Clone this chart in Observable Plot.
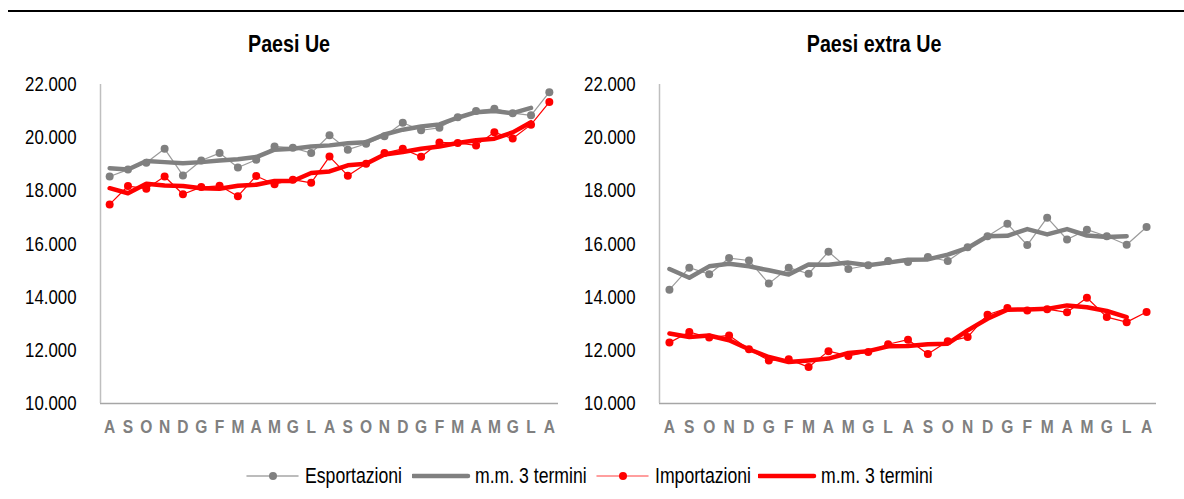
<!DOCTYPE html>
<html>
<head>
<meta charset="utf-8">
<script src="https://cdn.jsdelivr.net/npm/d3@7"></script>
<script src="https://cdn.jsdelivr.net/npm/@observablehq/plot@0.6"></script>
<style>
  html, body { margin: 0; padding: 0; background: #fff; }
  body { width: 1184px; height: 499px; overflow: hidden; position: relative;
         font-family: "Liberation Sans", Arial, sans-serif; }
  #topline { position: absolute; left: 8px; right: 0; top: 10px; height: 2px; background: #000; }
  .title { position: absolute; top: 30px; text-align: center; }
  .title span { display: inline-block; font-weight: bold; font-size: 24px; color: #000; transform: scaleX(0.82); }
  .panel { position: absolute; top: 60px; }
  .panel svg { overflow: visible; }
  #legend { position: absolute; top: 462px; left: 0; width: 1184px; height: 28px; }
  #legend .item { position: absolute; top: 0; height: 28px; display: flex; align-items: center; }
  #legend span { display: inline-block; font-size: 21.5px; color: #000; transform: scaleX(0.82);
                 transform-origin: left center; white-space: nowrap; }
</style>
</head>
<body>
<div id="topline"></div>
<div class="title" style="left:0;width:578px;"><span>Paesi Ue</span></div>
<div class="title" style="left:578px;width:592px;"><span>Paesi extra Ue</span></div>
<div id="left" class="panel" style="left:0;"></div>
<div id="right" class="panel" style="left:560px;"></div>
<div id="legend"></div>
<script>
const months = ["A","S","O","N","D","G","F","M","A","M","G","L","A","S","O","N","D","G","F","M","A","M","G","L","A"];
const yTicks = [10000, 12000, 14000, 16000, 18000, 20000, 22000];

// Paesi Ue
const ueEsp   = [18540,18800,19060,19580,18580,19140,19420,18880,19170,19670,19620,19420,20090,19550,19770,20050,20560,20280,20370,20770,21000,21090,20920,20840,21710];
const ueEspMM = [18850,18800,19120,19080,19040,19080,19140,19190,19270,19550,19580,19670,19710,19790,19830,20120,20300,20420,20500,20750,20960,21000,20920,21120];
const ueImp   = [17490,18180,18080,18540,17870,18140,18190,17800,18560,18250,18420,18300,19290,18570,19020,19420,19580,19280,19820,19800,19710,20200,19970,20490,21340];
const ueImpMM = [18100,17910,18270,18200,18180,18100,18080,18190,18230,18370,18370,18670,18730,18960,19020,19370,19460,19580,19670,19800,19900,19960,20200,20580];

// Paesi extra Ue
const exEsp   = [14280,15110,14860,15470,15380,14510,15110,14880,15710,15060,15200,15360,15320,15510,15360,15880,16290,16760,15960,16990,16170,16540,16290,15970,16640];
const exEspMM = [15060,14730,15160,15260,15160,15010,14850,15230,15220,15300,15200,15300,15410,15420,15600,15850,16290,16310,16560,16360,16560,16320,16260,16290];
const exImp   = [12290,12690,12480,12560,12040,11620,11660,11370,11970,11790,11940,12230,12400,11860,12340,12500,13340,13590,13500,13550,13430,13980,13250,13060,13440];
const exImpMM = [12630,12500,12560,12380,12040,11750,11560,11620,11690,11900,11970,12150,12160,12230,12250,12750,13190,13530,13540,13560,13690,13620,13480,13250];

const legendLabels = ["Esportazioni", "m.m. 3 termini", "Importazioni", "m.m. 3 termini"];

const GREY = "#808080", GREY_THIN = "#9a9a9a", RED = "#ff0000";
const fmt = d => d3.format(",")(d).replace(/,/g, ".");
const rows = arr => arr.map((v, i) => ({i, v}));
const FONT = '"Liberation Sans", Arial, sans-serif';

function panel(esp, espMM, imp, impMM, width, marginLeft, marginRight) {
  return Plot.plot({
    width, height: 393, marginLeft, marginRight, marginTop: 24, marginBottom: 50,
    style: {fontFamily: FONT, background: "transparent", overflow: "visible"},
    x: {type: "linear", domain: [-0.5, months.length - 0.5]},
    y: {domain: [10000, 22000]},
    marks: [
      Plot.ruleY([10000], {stroke: "#a6a6a6", strokeWidth: 1.5}),
      Plot.ruleX([-0.5], {stroke: "#bfbfbf", strokeWidth: 1.5}),
      Plot.axisY({ticks: yTicks, tickSize: 0, tickPadding: 24, tickFormat: fmt, label: null,
                  fontSize: 20.5, fill: "#000"}),
      Plot.axisX({ticks: d3.range(months.length), tickSize: 0, tickPadding: 16, label: null,
                  tickFormat: i => months[i], fontSize: 19, fontWeight: "bold", fill: GREY}),
      Plot.line(rows(esp), {x: "i", y: "v", stroke: GREY_THIN, strokeWidth: 1.2}),
      Plot.dot(rows(esp), {x: "i", y: "v", fill: GREY, r: 4}),
      Plot.line(rows(espMM), {x: "i", y: "v", stroke: GREY, strokeWidth: 4.5}),
      Plot.line(rows(imp), {x: "i", y: "v", stroke: RED, strokeWidth: 1.2}),
      Plot.dot(rows(imp), {x: "i", y: "v", fill: RED, r: 4}),
      Plot.line(rows(impMM), {x: "i", y: "v", stroke: RED, strokeWidth: 4.5})
    ]
  });
}

// condense axis tick labels horizontally (Arial Narrow look)
function condense(svg, k) {
  d3.select(svg).selectAll('g[aria-label$="tick label"] text').each(function() {
    const t = this.getAttribute("transform");
    if (t && /translate/.test(t)) {
      this.setAttribute("transform", t + ` scale(${k},1)`);
    } else {
      const x = +(this.getAttribute("x") || 0);
      this.setAttribute("transform", `translate(${x},0) scale(${k},1) translate(${-x},0)`);
    }
  });
  return svg;
}

document.getElementById("left").append(condense(panel(ueEsp, ueEspMM, ueImp, ueImpMM, 570, 100, 12), 0.82));
document.getElementById("right").append(condense(panel(exEsp, exEspMM, exImp, exImpMM, 612, 99, 16), 0.82));

// legend
const legendSyms = [
  {color: "#a6a6a6", dot: GREY, w: 1.5, len: 52},
  {color: GREY, dot: null, w: 4.5, len: 56},
  {color: "#ff7f7f", dot: RED, w: 1.5, len: 52},
  {color: RED, dot: null, w: 4.5, len: 56}
];
const legendX = [246, 412, 596, 758];
const lg = d3.select("#legend");
legendLabels.forEach((label, k) => {
  const it = legendSyms[k];
  const item = lg.append("div").attr("class", "item").style("left", legendX[k] + "px");
  const s = item.append("svg").attr("width", it.len + 6).attr("height", 14).style("margin-right", "1px");
  s.append("line").attr("x1", 1).attr("x2", it.len).attr("y1", 7).attr("y2", 7)
    .attr("stroke", it.color).attr("stroke-width", it.w).attr("stroke-linecap", "round");
  if (it.dot) s.append("circle").attr("cx", it.len / 2 + 1).attr("cy", 7).attr("r", 4).attr("fill", it.dot);
  item.append("span").text(label);
});
</script>
</body>
</html>
